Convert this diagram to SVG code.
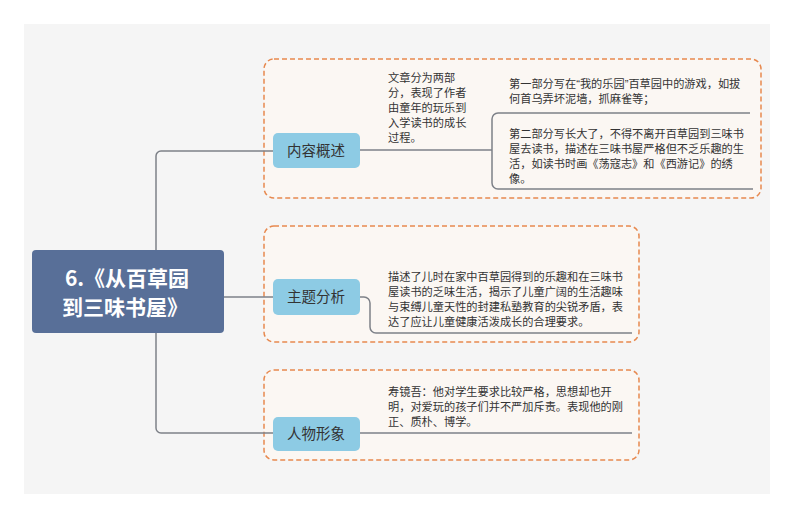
<svg xmlns="http://www.w3.org/2000/svg" width="794" height="519" viewBox="0 0 794 519">
<style>
.conn{fill:none;stroke:#7d8188;stroke-width:1.5}
.frame{fill:#fbf7f3;stroke:#e7894f;stroke-width:1.5;stroke-dasharray:5 3}
.topic rect{fill:#8dcbe4}
.topic text{font-family:"Noto Sans CJK SC","Noto Sans",sans-serif;font-size:14.5px;fill:#333;text-anchor:middle}
.leaf text{font-family:"Noto Sans CJK SC","Noto Sans",sans-serif;font-size:11.2px;fill:#333}
.leaf .q{font-family:"Liberation Sans",sans-serif}
.root text{font-family:"Noto Sans CJK SC","Noto Sans",sans-serif;font-size:21px;font-weight:bold;fill:#fff;text-anchor:middle}
</style>
<rect width="794" height="519" fill="#ffffff"/>
<rect x="24" y="24" width="746" height="470" fill="#f5f5f5"/>
<g id="frames">
<rect class="frame" x="264" y="59" width="497" height="139" rx="10"/>
<rect class="frame" x="264" y="226" width="375" height="116" rx="10"/>
<rect class="frame" x="264" y="370" width="375" height="90" rx="10"/>
</g>
<g id="connectors">
<path class="conn" d="M224 297H360"/>
<path class="conn" d="M273 151H161a5 5 0 0 0-5 5V428a5 5 0 0 0 5 5H273"/>
<path class="conn" d="M360 150H492"/>
<path class="conn" d="M750 113H498a6 6 0 0 0-6 6V183a6 6 0 0 0 6 6H753"/>
<path class="conn" d="M360 297H364a6 6 0 0 1 6 6V327a6 6 0 0 0 6 6H632"/>
<path class="conn" d="M360 433H632"/>
</g>
<g id="root" class="root">
<rect x="32" y="250" width="192" height="83" rx="4" fill="#586f98"/>
<text x="127" y="286">6.《从百草园</text>
<text x="125" y="315">到三味书屋》</text>
</g>
<g id="topic1" class="topic">
<rect x="273" y="133" width="87" height="35" rx="5"/>
<text x="316" y="156">内容概述</text>
</g>
<g id="topic2" class="topic">
<rect x="273" y="279" width="87" height="36" rx="5"/>
<text x="316" y="302">主题分析</text>
</g>
<g id="topic3" class="topic">
<rect x="273" y="417" width="87" height="34" rx="5"/>
<text x="316" y="439">人物形象</text>
</g>
<g id="leaf1" class="leaf">
<text x="388" y="82">文章分为两部</text>
<text x="388" y="97">分，表现了作者</text>
<text x="388" y="112">由童年的玩乐到</text>
<text x="388" y="127">入学读书的成长</text>
<text x="388" y="142">过程。</text>
</g>
<g id="leaf1a" class="leaf">
<text x="509" y="88">第一部分写在<tspan class="q">“</tspan>我的乐园<tspan class="q">”</tspan>百草园中的游戏，如拔</text>
<text x="509" y="103">何首乌弄坏泥墙，抓麻雀等；</text>
</g>
<g id="leaf1b" class="leaf">
<text x="509" y="138">第二部分写长大了，不得不离开百草园到三味书</text>
<text x="509" y="153">屋去读书，描述在三味书屋严格但不乏乐趣的生</text>
<text x="509" y="168">活，如读书时画《荡寇志》和《西游记》的绣</text>
<text x="509" y="183">像。</text>
</g>
<g id="leaf2" class="leaf">
<text x="388" y="281">描述了儿时在家中百草园得到的乐趣和在三味书</text>
<text x="388" y="296">屋读书的乏味生活，揭示了儿童广阔的生活趣味</text>
<text x="388" y="311">与束缚儿童天性的封建私塾教育的尖锐矛盾，表</text>
<text x="388" y="326">达了应让儿童健康活泼成长的合理要求。</text>
</g>
<g id="leaf3" class="leaf">
<text x="388" y="396">寿镜吾：他对学生要求比较严格，思想却也开</text>
<text x="388" y="411">明，对爱玩的孩子们并不严加斥责。表现他的刚</text>
<text x="388" y="426">正、质朴、博学。</text>
</g>
</svg>
